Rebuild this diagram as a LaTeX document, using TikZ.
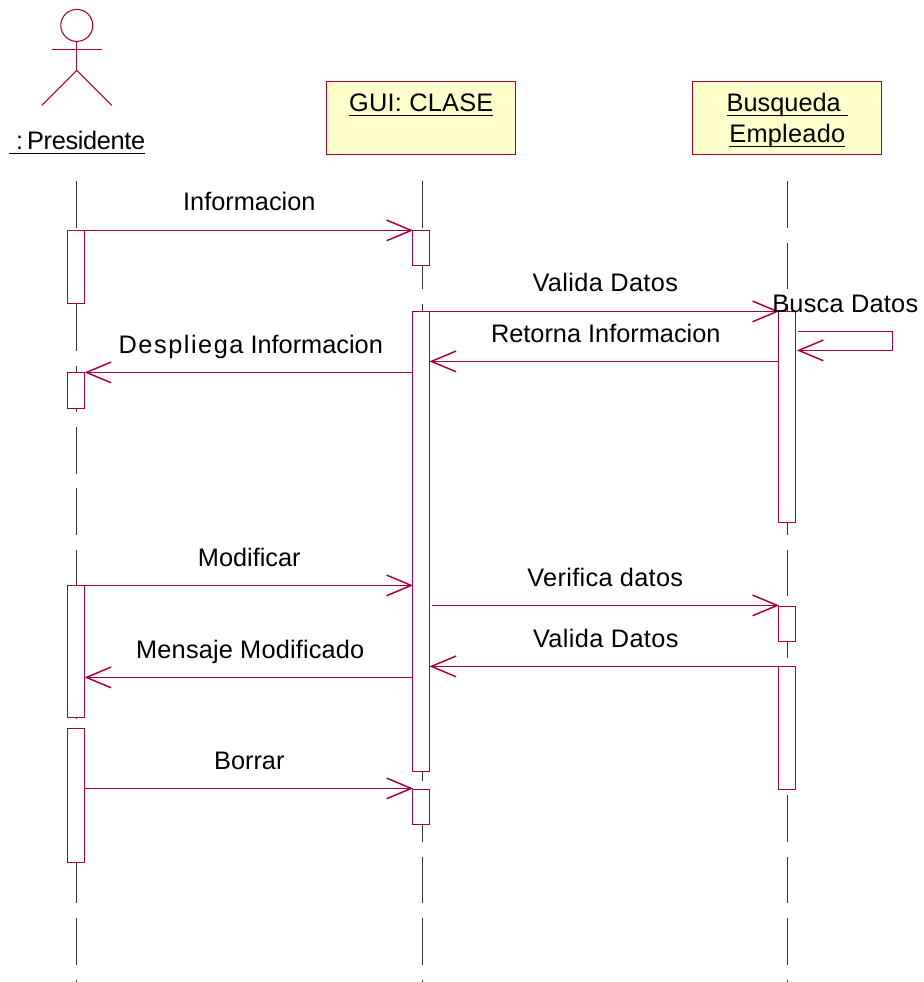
\documentclass[tikz,border=0pt]{standalone}
\usepackage{fontspec}
\setmainfont{Liberation Sans}
\usetikzlibrary{calc,positioning,arrows.meta}
\definecolor{umlred}{HTML}{A80036}
\definecolor{umlfill}{HTML}{FFFFCC}
\newsavebox\ulbox
\newcommand{\ultext}[1]{\sbox\ulbox{#1}\leavevmode\rlap{\usebox\ulbox}\rule[-3pt]{\wd\ulbox}{0.9pt}}
\newcommand{\spaced}[2]{{\addfontfeature{LetterSpace=#1}#2}}

\begin{document}
\begin{tikzpicture}[
    x=0.75pt,y=-0.75pt,
    every node/.style={font=\fontsize{19pt}{23pt}\selectfont},
    classbox/.style={rectangle,draw=umlred,fill=umlfill,line width=0.6pt,inner sep=0pt,minimum width=141.75pt,minimum height=54.75pt,align=center},
    actorline/.style={draw=umlred,line width=0.8pt},
    lifeline/.style={draw=black!80,line width=0.7pt,dash pattern=on 34.9pt off 11.15pt},
    activebox/.style={rectangle,draw=umlred,fill=white,line width=0.7pt,inner sep=0pt,minimum width=12.75pt},
    msg/.style={draw=umlred,line width=0.7pt,shorten >=-0.6pt,-{Straight Barb[length=18.5pt,width=15.5pt,line width=1.1pt]}},
    msglabel/.style={anchor=base,inner sep=0pt,yshift=-0.6pt}
    ]

    \useasboundingbox (0.2,0.6) rectangle (924.2,982.6);

    \coordinate(pres_top) at (77,182);
    \coordinate(pres_end) at (77,982.6);
    \coordinate(gui_top) at (422.5,182);
    \coordinate(gui_end) at (422.5,982.6);
    \coordinate(busq_top) at (788,182);
    \coordinate(busq_end) at (788,982.6);
    \draw[lifeline] (pres_top) -- (pres_end);
    \draw[lifeline] (gui_top) -- (gui_end);
    \draw[lifeline] (busq_top) -- (busq_end);

    \node(head) [circle,actorline,inner sep=0pt,minimum size=24pt] at (77,26) {};
    \coordinate(hip) at (77,71);
    \coordinate(arm_l) at (52,50);
    \coordinate(arm_r) at (102,50);
    \coordinate(foot_l) at (42,106);
    \coordinate(foot_r) at (112,106);
    \draw[actorline] (head.south) -- (hip);
    \draw[actorline] (arm_l) -- (arm_r);
    \draw[actorline] (foot_l) -- (hip) -- (foot_r);
    \node(pres_title) [msglabel] at (77.5,149.5) {\ultext{\spaced{-1.3}{\ :\ \hspace{-2pt}Presidente}}};

    \node(gui) [classbox] at (421.5,118.5) {};
    \node(gui_title) [msglabel] at (gui |- 0,111.5) {\ultext{\spaced{1}{GUI: CLASE}}};
    \node(busq) [classbox] at (787.5,118.5) {};
    \node(busq_title) [msglabel] at (busq |- 0,111.5) {\ultext{Busqueda\ }};
    \node(busq_title2) [msglabel] at (busq |- 0,142.5) {\ultext{\spaced{1}{Empleado}}};

    \node(pres_a) [activebox,minimum height=54.75pt] at (76.5,267.5) {};
    \node(pres_b) [activebox,minimum height=27pt] at (76.5,391) {};
    \node(pres_c) [activebox,minimum height=99pt] at (76.5,652) {};
    \node(pres_d) [activebox,minimum height=100.5pt] at (76.5,796) {};

    \node(gui_a) [activebox,minimum height=26.25pt] at (421.5,248.5) {};
    \node(gui_b) [activebox,minimum height=345pt] at (421.5,542) {};
    \node(gui_c) [activebox,minimum height=26.25pt] at (421.5,807.5) {};

    \node(busq_a) [activebox,minimum height=158.25pt] at (787.5,417.5) {};
    \node(busq_b) [activebox,minimum height=26.25pt] at (787.5,624.5) {};
    \node(busq_c) [activebox,minimum height=92.25pt] at (787.5,728.5) {};

    \draw[msg] (pres_a.east |- 0,231) -- (gui_a.west |- 0,231);
    \node(informacion) [msglabel] at (249.5,210.5) {Informacion};

    \draw[msg] (gui_b.east |- 0,312) -- (busq_a.west |- 0,312);
    \node(valida_a) [msglabel] at (605.5,291) {\spaced{1.5}{Valida Datos}};

    \draw[msg] (busq_a.west |- 0,362) -- (gui_b.east |- 0,362);
    \node(retorna) [msglabel] at (606,342) {Retorna Informacion};

    \draw[msg] (gui_b.west |- 0,373) -- (pres_b.east |- 0,373);
    \node(despliega) [msglabel] at (251,353) {\spaced{6}{Despliega} Informacion};

    \coordinate(self_a) at (893,332);
    \coordinate(self_b) at (893,351);
    \draw[msg] ([xshift=1.5pt]busq_a.east |- self_a) -- (self_a) -- (self_b) -- ([xshift=1pt]busq_a.east |- self_b);
    \node(busca) [msglabel] at (845.5,312) {\spaced{1}{Busca Datos}};

    \draw[msg] (pres_c.east |- 0,586) -- (gui_b.west |- 0,586);
    \node(modificar) [msglabel] at (249.5,566) {Modificar};

    \draw[msg] ([xshift=1.5pt]gui_b.east |- 0,606) -- (busq_b.west |- 0,606);
    \node(verifica) [msglabel] at (605.5,586) {\spaced{1.2}{Verifica datos}};

    \draw[msg] (busq_c.west |- 0,667) -- (gui_b.east |- 0,667);
    \node(valida_b) [msglabel] at (606,647) {\spaced{1.5}{Valida Datos}};

    \draw[msg] (gui_b.west |- 0,678) -- (pres_c.east |- 0,678);
    \node(mensaje) [msglabel] at (250.5,658) {\spaced{0.7}{Mensaje Modificado}};

    \draw[msg] (pres_d.east |- 0,789) -- (gui_c.west |- 0,789);
    \node(borrar) [msglabel] at (249.5,769) {Borrar};

\end{tikzpicture}
\end{document}
